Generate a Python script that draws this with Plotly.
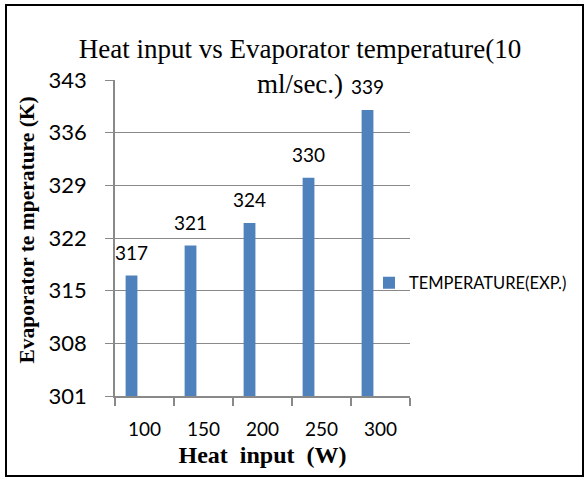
import plotly.graph_objects as go

# ---- data ----
heat_input = ["100", "150", "200", "250", "300"]
temperature = [317, 321, 324, 330, 339]
series_name = "TEMPERATURE(EXP.)"
y_ticks = [301, 308, 315, 322, 329, 336, 343]

# ---- layout constants (pixels) ----
W, H = 588, 483
L, R, T, B = 115, 178, 80, 87
PW, PH = W - L - R, H - T - B

def px(xp):
    return (xp - L) / PW

def py(yp):
    return (H - B - yp) / PH

BAR = "#4F81BD"
GRID = "#898989"
TICKFONT = "Lato"
SERIF = "Liberation Serif, Times New Roman, serif"
BAR_WIDTH = 0.2      # in category units
BAR_OFFSET = -0.32   # bars sit in the left half of each category slot

fig = go.Figure()
fig.add_trace(go.Bar(
    x=heat_input, y=temperature, name=series_name,
    marker=dict(color=BAR, line=dict(width=0)),
    width=BAR_WIDTH, offset=BAR_OFFSET, showlegend=True,
))

# data labels above bars
for i, v in enumerate(temperature):
    fig.add_annotation(x=i + BAR_OFFSET + BAR_WIDTH / 2, y=v, xref="x", yref="y",
                       text=str(v), showarrow=False,
                       yanchor="bottom", yshift=10,
                       font=dict(family=TICKFONT, size=19, color="#000"))

fig.update_layout(
    width=W, height=H,
    margin=dict(l=L, r=R, t=T, b=B, autoexpand=False),
    paper_bgcolor="white", plot_bgcolor="white",
    title=dict(text="Heat input vs Evaporator temperature(10<br>ml/sec.)",
               x=300 / W, xanchor="center", xref="container",
               y=1 - 58 / H, yanchor="top", yref="container",
               font=dict(family=SERIF, size=27, color="#000")),
    showlegend=True,
    legend=dict(x=px(369), xanchor="left", y=py(283), yanchor="middle",
                bgcolor="rgba(0,0,0,0)",
                font=dict(family=TICKFONT, size=16.5, color="#000")),
    xaxis=dict(type="category", range=[-0.5, 4.5], tickson="boundaries",
               showgrid=False, showline=True, linecolor=GRID, linewidth=1.5,
               ticks="outside", ticklen=8, tickcolor=GRID, tickwidth=1.5,
               ticklabelstandoff=15,
               tickfont=dict(family=TICKFONT, size=19, color="#000"),
               title=dict(text="<b>Heat&nbsp; input&nbsp; (W)</b>", standoff=8,
                          font=dict(family=SERIF, size=24, color="#000")),
               fixedrange=True),
    yaxis=dict(range=[301, 343], tickvals=y_ticks, ticktext=[str(v) for v in y_ticks],
               showgrid=True, gridcolor=GRID, gridwidth=1,
               showline=True, linecolor=GRID, linewidth=1.5, zeroline=False,
               ticks="outside", ticklen=8, tickcolor=GRID, tickwidth=1,
               ticklabelstandoff=14,
               tickfont=dict(family=TICKFONT, size=22, color="#000"),
               title=dict(text="<b>&nbsp;&nbsp;&nbsp;Evaporator te mperature (K)</b>", standoff=8,
                          font=dict(family=SERIF, size=21.5, color="#000")),
               fixedrange=True),
    shapes=[dict(type="rect", xref="paper", yref="paper",
                 x0=px(6), x1=px(583), y0=py(476), y1=py(5),
                 line=dict(color="#000", width=2), fillcolor="rgba(0,0,0,0)",
                 layer="below")],
)

fig.write_html("out.html", config={"displayModeBar": False},
               post_script="document.body.style.margin='0px';")
